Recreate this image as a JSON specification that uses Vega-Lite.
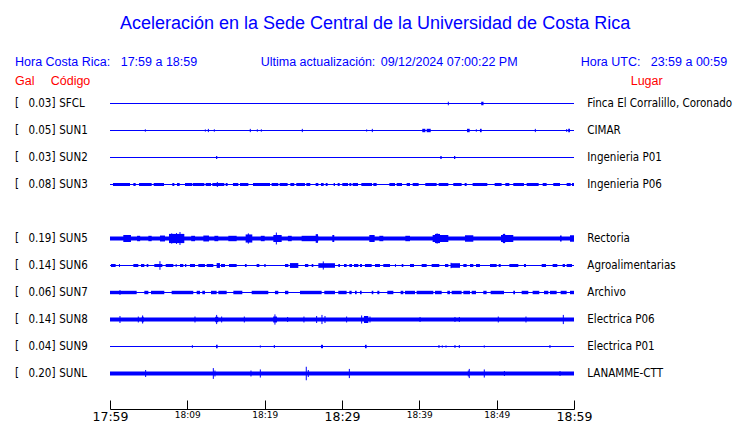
{
"$schema": "https://vega.github.io/schema/vega-lite/v6.json",
"width": 464, "height": 319,
"autosize": {"type": "none"},
"padding": {"left": 110, "top": 90, "right": 166, "bottom": 14},
"background": "white",
"config": {"view": {"stroke": null}},
"datasets": {
"st": [
{"code":"SFCL","slot":0,"gal":"0.03","place":"Finca El Corralillo, Coronado"},
{"code":"SUN1","slot":1,"gal":"0.05","place":"CIMAR"},
{"code":"SUN2","slot":2,"gal":"0.03","place":"Ingenieria P01"},
{"code":"SUN3","slot":3,"gal":"0.08","place":"Ingenieria P06"},
{"code":"SUN5","slot":5,"gal":"0.19","place":"Rectoria"},
{"code":"SUN6","slot":6,"gal":"0.14","place":"Agroalimentarias"},
{"code":"SUN7","slot":7,"gal":"0.06","place":"Archivo"},
{"code":"SUN8","slot":8,"gal":"0.14","place":"Electrica P06"},
{"code":"SUN9","slot":9,"gal":"0.04","place":"Electrica P01"},
{"code":"SUNL","slot":10,"gal":"0.20","place":"LANAMME-CTT"}
],
"bd": [
{"s":"SFCL","t0":48.0,"t1":48.3,"a":0.065},
{"s":"SUN1","t0":40.38,"t1":40.78,"a":0.063},{"s":"SUN1","t0":40.95,"t1":41.47,"a":0.063},{"s":"SUN1","t0":46.16,"t1":46.51,"a":0.063},{"s":"SUN1","t0":47.84,"t1":48.06,"a":0.063},{"s":"SUN1","t0":59.0,"t1":59.12,"a":0.06},{"s":"SUN1","t0":59.25,"t1":59.48,"a":0.063},
{"s":"SUN2","t0":13.71,"t1":13.87,"a":0.06},{"s":"SUN2","t0":42.71,"t1":42.89,"a":0.055},{"s":"SUN2","t0":44.48,"t1":44.65,"a":0.055},
{"s":"SUN3","t0":0.39,"t1":2.59,"a":0.056},{"s":"SUN3","t0":3.02,"t1":3.32,"a":0.056},{"s":"SUN3","t0":3.75,"t1":5.39,"a":0.056},{"s":"SUN3","t0":5.65,"t1":6.98,"a":0.056},{"s":"SUN3","t0":8.06,"t1":8.32,"a":0.056},{"s":"SUN3","t0":8.66,"t1":9.01,"a":0.056},{"s":"SUN3","t0":9.70,"t1":10.65,"a":0.056},{"s":"SUN3","t0":10.73,"t1":12.20,"a":0.056},{"s":"SUN3","t0":12.37,"t1":13.06,"a":0.056},{"s":"SUN3","t0":13.23,"t1":14.78,"a":0.056},{"s":"SUN3","t0":14.96,"t1":15.21,"a":0.056},{"s":"SUN3","t0":15.90,"t1":16.59,"a":0.056},{"s":"SUN3","t0":16.81,"t1":17.89,"a":0.056},{"s":"SUN3","t0":18.49,"t1":20.69,"a":0.056},{"s":"SUN3","t0":20.90,"t1":21.76,"a":0.056},{"s":"SUN3","t0":21.94,"t1":22.97,"a":0.056},{"s":"SUN3","t0":23.32,"t1":23.83,"a":0.056},{"s":"SUN3","t0":24.09,"t1":25.21,"a":0.056},{"s":"SUN3","t0":25.39,"t1":25.90,"a":0.056},{"s":"SUN3","t0":26.59,"t1":26.94,"a":0.056},{"s":"SUN3","t0":27.28,"t1":27.63,"a":0.056},{"s":"SUN3","t0":27.89,"t1":28.14,"a":0.056},{"s":"SUN3","t0":28.92,"t1":29.09,"a":0.056},{"s":"SUN3","t0":29.44,"t1":29.70,"a":0.056},{"s":"SUN3","t0":30.04,"t1":30.78,"a":0.056},{"s":"SUN3","t0":30.95,"t1":31.21,"a":0.056},{"s":"SUN3","t0":31.38,"t1":32.07,"a":0.056},{"s":"SUN3","t0":32.50,"t1":33.88,"a":0.056},{"s":"SUN3","t0":34.05,"t1":34.48,"a":0.056},{"s":"SUN3","t0":36.12,"t1":36.85,"a":0.056},{"s":"SUN3","t0":37.07,"t1":37.76,"a":0.056},{"s":"SUN3","t0":38.36,"t1":38.79,"a":0.056},{"s":"SUN3","t0":39.14,"t1":39.91,"a":0.056},{"s":"SUN3","t0":40.77,"t1":42.24,"a":0.056},{"s":"SUN3","t0":42.50,"t1":43.75,"a":0.056},{"s":"SUN3","t0":44.39,"t1":45.47,"a":0.056},{"s":"SUN3","t0":45.86,"t1":46.12,"a":0.056},{"s":"SUN3","t0":46.89,"t1":48.79,"a":0.056},{"s":"SUN3","t0":49.74,"t1":50.64,"a":0.056},{"s":"SUN3","t0":51.12,"t1":51.64,"a":0.056},{"s":"SUN3","t0":52.15,"t1":53.53,"a":0.056},{"s":"SUN3","t0":53.88,"t1":55.43,"a":0.056},{"s":"SUN3","t0":55.95,"t1":56.46,"a":0.056},{"s":"SUN3","t0":57.32,"t1":58.19,"a":0.056},{"s":"SUN3","t0":59.05,"t1":59.57,"a":0.056},{"s":"SUN3","t0":59.74,"t1":60.0,"a":0.056},
{"s":"SUN5","t0":0,"t1":60,"a":0.074},
{"s":"SUN5","t0":1.72,"t1":2.71,"a":0.13},{"s":"SUN5","t0":3.5,"t1":3.9,"a":0.1},{"s":"SUN5","t0":4.96,"t1":5.39,"a":0.1},{"s":"SUN5","t0":6.46,"t1":7.11,"a":0.11},{"s":"SUN5","t0":7.63,"t1":9.61,"a":0.17},{"s":"SUN5","t0":10.5,"t1":11.0,"a":0.1},{"s":"SUN5","t0":12.07,"t1":12.80,"a":0.11},{"s":"SUN5","t0":13.5,"t1":14.0,"a":0.1},{"s":"SUN5","t0":15.30,"t1":16.38,"a":0.1},{"s":"SUN5","t0":17.54,"t1":18.40,"a":0.15},{"s":"SUN5","t0":19.5,"t1":20.0,"a":0.1},{"s":"SUN5","t0":21.12,"t1":22.20,"a":0.13},{"s":"SUN5","t0":23.0,"t1":23.5,"a":0.1},{"s":"SUN5","t0":24.78,"t1":26.94,"a":0.1},{"s":"SUN5","t0":26.6,"t1":26.9,"a":0.16},{"s":"SUN5","t0":28.75,"t1":29.0,"a":0.13},{"s":"SUN5","t0":33.53,"t1":34.22,"a":0.13},{"s":"SUN5","t0":34.83,"t1":35.34,"a":0.1},{"s":"SUN5","t0":38.19,"t1":38.79,"a":0.1},{"s":"SUN5","t0":41.72,"t1":43.75,"a":0.13},{"s":"SUN5","t0":42.02,"t1":42.67,"a":0.17},{"s":"SUN5","t0":45.90,"t1":46.98,"a":0.12},{"s":"SUN5","t0":50.56,"t1":52.15,"a":0.13},{"s":"SUN5","t0":50.8,"t1":51.1,"a":0.17},{"s":"SUN5","t0":58.19,"t1":58.40,"a":0.11},{"s":"SUN5","t0":59.48,"t1":60.0,"a":0.12},
{"s":"SUN6","t0":0.13,"t1":0.73,"a":0.056},{"s":"SUN6","t0":1.16,"t1":1.29,"a":0.056},{"s":"SUN6","t0":3.02,"t1":3.66,"a":0.056},{"s":"SUN6","t0":4.01,"t1":4.44,"a":0.056},{"s":"SUN6","t0":4.74,"t1":4.96,"a":0.056},{"s":"SUN6","t0":5.73,"t1":6.77,"a":0.056},{"s":"SUN6","t0":7.20,"t1":8.19,"a":0.056},{"s":"SUN6","t0":8.49,"t1":8.62,"a":0.056},{"s":"SUN6","t0":9.05,"t1":9.48,"a":0.056},{"s":"SUN6","t0":9.70,"t1":9.87,"a":0.056},{"s":"SUN6","t0":10.34,"t1":10.99,"a":0.056},{"s":"SUN6","t0":11.42,"t1":12.28,"a":0.056},{"s":"SUN6","t0":12.50,"t1":13.36,"a":0.056},{"s":"SUN6","t0":13.79,"t1":14.22,"a":0.09},{"s":"SUN6","t0":14.35,"t1":14.87,"a":0.056},{"s":"SUN6","t0":15.39,"t1":16.38,"a":0.056},{"s":"SUN6","t0":17.45,"t1":17.67,"a":0.056},{"s":"SUN6","t0":18.96,"t1":19.31,"a":0.056},{"s":"SUN6","t0":19.95,"t1":20.13,"a":0.056},{"s":"SUN6","t0":22.63,"t1":23.06,"a":0.056},{"s":"SUN6","t0":23.27,"t1":24.35,"a":0.09},{"s":"SUN6","t0":25.21,"t1":25.64,"a":0.056},{"s":"SUN6","t0":26.08,"t1":26.29,"a":0.056},{"s":"SUN6","t0":26.94,"t1":29.09,"a":0.085},{"s":"SUN6","t0":29.52,"t1":29.74,"a":0.056},{"s":"SUN6","t0":30.26,"t1":30.60,"a":0.056},{"s":"SUN6","t0":30.95,"t1":31.29,"a":0.056},{"s":"SUN6","t0":31.55,"t1":32.11,"a":0.056},{"s":"SUN6","t0":32.33,"t1":32.59,"a":0.056},{"s":"SUN6","t0":32.97,"t1":33.84,"a":0.056},{"s":"SUN6","t0":34.27,"t1":34.91,"a":0.056},{"s":"SUN6","t0":35.34,"t1":36.21,"a":0.056},{"s":"SUN6","t0":36.85,"t1":36.97,"a":0.056},{"s":"SUN6","t0":37.72,"t1":37.93,"a":0.056},{"s":"SUN6","t0":38.79,"t1":39.31,"a":0.056},{"s":"SUN6","t0":40.30,"t1":40.95,"a":0.056},{"s":"SUN6","t0":41.59,"t1":42.58,"a":0.056},{"s":"SUN6","t0":43.32,"t1":43.75,"a":0.056},{"s":"SUN6","t0":44.09,"t1":45.26,"a":0.085},{"s":"SUN6","t0":45.69,"t1":46.12,"a":0.056},{"s":"SUN6","t0":46.55,"t1":46.98,"a":0.056},{"s":"SUN6","t0":47.33,"t1":47.84,"a":0.056},{"s":"SUN6","t0":49.14,"t1":50.0,"a":0.056},{"s":"SUN6","t0":50.26,"t1":50.52,"a":0.056},{"s":"SUN6","t0":51.64,"t1":52.80,"a":0.056},{"s":"SUN6","t0":53.53,"t1":53.79,"a":0.056},{"s":"SUN6","t0":55.82,"t1":56.38,"a":0.056},{"s":"SUN6","t0":57.24,"t1":57.84,"a":0.056},{"s":"SUN6","t0":58.53,"t1":58.83,"a":0.056},{"s":"SUN6","t0":59.05,"t1":59.74,"a":0.056},
{"s":"SUN7","t0":0,"t1":3.45,"a":0.063},{"s":"SUN7","t0":4.44,"t1":4.96,"a":0.063},{"s":"SUN7","t0":5.30,"t1":7.02,"a":0.063},{"s":"SUN7","t0":7.97,"t1":10.77,"a":0.063},{"s":"SUN7","t0":11.21,"t1":11.64,"a":0.063},{"s":"SUN7","t0":11.94,"t1":12.28,"a":0.063},{"s":"SUN7","t0":13.06,"t1":13.79,"a":0.063},{"s":"SUN7","t0":14.01,"t1":15.09,"a":0.063},{"s":"SUN7","t0":15.95,"t1":17.11,"a":0.063},{"s":"SUN7","t0":18.32,"t1":20.47,"a":0.063},{"s":"SUN7","t0":21.33,"t1":21.76,"a":0.063},{"s":"SUN7","t0":22.63,"t1":23.06,"a":0.063},{"s":"SUN7","t0":24.57,"t1":27.37,"a":0.063},{"s":"SUN7","t0":27.71,"t1":29.09,"a":0.063},{"s":"SUN7","t0":29.52,"t1":30.60,"a":0.063},{"s":"SUN7","t0":30.95,"t1":31.25,"a":0.063},{"s":"SUN7","t0":31.68,"t1":31.90,"a":0.063},{"s":"SUN7","t0":32.33,"t1":32.54,"a":0.063},{"s":"SUN7","t0":33.84,"t1":34.05,"a":0.063},{"s":"SUN7","t0":34.57,"t1":34.83,"a":0.063},{"s":"SUN7","t0":35.86,"t1":36.64,"a":0.063},{"s":"SUN7","t0":37.58,"t1":37.93,"a":0.063},{"s":"SUN7","t0":38.14,"t1":39.44,"a":0.063},{"s":"SUN7","t0":39.65,"t1":41.81,"a":0.063},{"s":"SUN7","t0":42.02,"t1":42.89,"a":0.063},{"s":"SUN7","t0":43.62,"t1":43.96,"a":0.063},{"s":"SUN7","t0":44.18,"t1":45.47,"a":0.063},{"s":"SUN7","t0":45.69,"t1":46.55,"a":0.063},{"s":"SUN7","t0":46.77,"t1":47.33,"a":0.063},{"s":"SUN7","t0":48.27,"t1":48.70,"a":0.063},{"s":"SUN7","t0":49.22,"t1":50.95,"a":0.063},{"s":"SUN7","t0":52.15,"t1":52.37,"a":0.063},{"s":"SUN7","t0":53.23,"t1":54.09,"a":0.063},{"s":"SUN7","t0":54.65,"t1":55.51,"a":0.063},{"s":"SUN7","t0":56.12,"t1":56.68,"a":0.063},{"s":"SUN7","t0":56.89,"t1":57.76,"a":0.063},{"s":"SUN7","t0":58.27,"t1":59.05,"a":0.063},{"s":"SUN7","t0":59.48,"t1":60.0,"a":0.063},
{"s":"SUN8","t0":0,"t1":60,"a":0.074},{"s":"SUN8","t0":4.1,"t1":4.35,"a":0.1},{"s":"SUN8","t0":13.6,"t1":14.0,"a":0.1},{"s":"SUN8","t0":21.1,"t1":21.6,"a":0.11},{"s":"SUN8","t0":32.84,"t1":33.40,"a":0.13},
{"s":"SUN9","t0":13.71,"t1":13.92,"a":0.063},{"s":"SUN9","t0":27.28,"t1":27.54,"a":0.063},{"s":"SUN9","t0":32.97,"t1":33.19,"a":0.063},
{"s":"SUNL","t0":0,"t1":60,"a":0.074}
],
"sp": [
{"s":"SFCL","t":43.75,"a":0.065},
{"s":"SUN1","t":4.57,"a":0.045},{"s":"SUN1","t":12.33,"a":0.04},{"s":"SUN1","t":12.72,"a":0.06},{"s":"SUN1","t":13.49,"a":0.045},{"s":"SUN1","t":18.14,"a":0.06},{"s":"SUN1","t":19.05,"a":0.045},{"s":"SUN1","t":19.57,"a":0.045},{"s":"SUN1","t":24.87,"a":0.06},{"s":"SUN1","t":33.19,"a":0.04},{"s":"SUN1","t":33.92,"a":0.06},{"s":"SUN1","t":47.37,"a":0.045},{"s":"SUN1","t":55.0,"a":0.06},
{"s":"SUN3","t":13.88,"a":0.093},
{"s":"SUN5","t":7.98,"a":0.19},{"s":"SUN5","t":8.6,"a":0.2},{"s":"SUN5","t":9.05,"a":0.24},{"s":"SUN5","t":17.89,"a":0.19},{"s":"SUN5","t":21.51,"a":0.22},{"s":"SUN5","t":42.3,"a":0.19},{"s":"SUN5","t":51.0,"a":0.17},
{"s":"SUN6","t":6.46,"a":0.16},{"s":"SUN6","t":27.58,"a":0.15},{"s":"SUN6","t":44.1,"a":0.1},
{"s":"SUN7","t":1.29,"a":0.09},
{"s":"SUN8","t":1.29,"a":0.13},{"s":"SUN8","t":3.66,"a":0.11},{"s":"SUN8","t":4.22,"a":0.15},{"s":"SUN8","t":10.99,"a":0.11},{"s":"SUN8","t":13.79,"a":0.17},{"s":"SUN8","t":14.44,"a":0.11},{"s":"SUN8","t":17.37,"a":0.11},{"s":"SUN8","t":21.33,"a":0.19},{"s":"SUN8","t":22.97,"a":0.093},{"s":"SUN8","t":25.08,"a":0.11},{"s":"SUN8","t":26.72,"a":0.13},{"s":"SUN8","t":27.41,"a":0.17},{"s":"SUN8","t":27.80,"a":0.13},{"s":"SUN8","t":30.60,"a":0.11},{"s":"SUN8","t":32.54,"a":0.15},{"s":"SUN8","t":33.62,"a":0.11},{"s":"SUN8","t":40.09,"a":0.093},{"s":"SUN8","t":44.61,"a":0.093},{"s":"SUN8","t":45.17,"a":0.093},{"s":"SUN8","t":50.21,"a":0.11},{"s":"SUN8","t":53.79,"a":0.11},{"s":"SUN8","t":58.62,"a":0.17},
{"s":"SUN9","t":10.65,"a":0.05},{"s":"SUN9","t":19.44,"a":0.04},{"s":"SUN9","t":21.25,"a":0.055},{"s":"SUN9","t":42.54,"a":0.055},{"s":"SUN9","t":42.97,"a":0.04},{"s":"SUN9","t":43.45,"a":0.04},{"s":"SUN9","t":44.61,"a":0.055},{"s":"SUN9","t":45.17,"a":0.055},{"s":"SUN9","t":48.40,"a":0.04},{"s":"SUN9","t":56.89,"a":0.055},
{"s":"SUNL","t":4.61,"a":0.13},{"s":"SUNL","t":13.36,"a":0.2},{"s":"SUNL","t":13.57,"a":0.11},{"s":"SUNL","t":18.23,"a":0.11},{"s":"SUNL","t":19.44,"a":0.15},{"s":"SUNL","t":25.38,"a":0.25},{"s":"SUNL","t":25.64,"a":0.13},{"s":"SUNL","t":30.95,"a":0.17},{"s":"SUNL","t":46.33,"a":0.11},{"s":"SUNL","t":46.46,"a":0.17},{"s":"SUNL","t":48.40,"a":0.15},{"s":"SUNL","t":51.0,"a":0.093},{"s":"SUNL","t":58.19,"a":0.093}
]
},
"layer": [
{
"data": {"name": "bd"},
"transform": [
{"lookup": "s", "from": {"data": {"name": "st"}, "key": "code", "fields": ["slot"]}},
{"calculate": "datum.slot - datum.a", "as": "lo"},
{"calculate": "datum.slot + datum.a", "as": "hi"}
],
"mark": {"type": "rect", "color": "#0000ff"},
"encoding": {
"x": {"field": "t0", "type": "quantitative", "scale": {"domain": [0, 60], "nice": false, "zero": false},
"axis": {"values": [0,5,10,15,20,25,30,35,40,45,50,55,60], "title": null, "grid": false,
"labelExpr": "datum.value % 10 == 0 ? ['17:59','18:09','18:19','18:29','18:39','18:49','18:59'][datum.value/10] : ''",
"domainColor": "black", "tickColor": "black", "tickSize": -9, "labelPadding": 10.5, "labelBaseline": "top",
"labelColor": "black", "labelFont": "DejaVu Sans", "labelFontSize": {"condition": {"test": "datum.value % 30 == 0", "value": 12.5}, "value": 9},
"labelFlush": false, "labelOverlap": false}},
"x2": {"field": "t1"},
"y": {"field": "lo", "type": "quantitative", "scale": {"domain": [-0.5, 11.3148], "reverse": true, "nice": false, "zero": false}, "axis": null},
"y2": {"field": "hi"}
}
},
{
"data": {"name": "st"},
"mark": {"type": "rule", "color": "#0000ff", "strokeWidth": 1},
"encoding": {
"x": {"datum": 0, "type": "quantitative"},
"x2": {"datum": 60},
"y": {"field": "slot", "type": "quantitative", "axis": null}
}
},
{
"data": {"name": "sp"},
"transform": [
{"lookup": "s", "from": {"data": {"name": "st"}, "key": "code", "fields": ["slot"]}},
{"calculate": "datum.slot - datum.a", "as": "lo"},
{"calculate": "datum.slot + datum.a", "as": "hi"}
],
"mark": {"type": "rule", "color": "#0000ff", "strokeWidth": 1},
"encoding": {
"x": {"field": "t", "type": "quantitative"},
"y": {"field": "lo", "type": "quantitative", "axis": null},
"y2": {"field": "hi"}
}
},
{
"data": {"name": "st"},
"mark": {"type": "text", "text": "[", "align": "left", "baseline": "middle", "font": "DejaVu Sans Condensed, DejaVu Sans", "fontSize": 11.5, "color": "black"},
"encoding": {"x": {"datum": -12.284}, "y": {"field": "slot", "type": "quantitative", "axis": null}}
},
{
"data": {"name": "st"},
"transform": [{"calculate": "datum.gal + ']'", "as": "g"}],
"mark": {"type": "text", "align": "right", "baseline": "middle", "font": "DejaVu Sans Condensed, DejaVu Sans", "fontSize": 11.5, "color": "black"},
"encoding": {"x": {"datum": -7.047}, "y": {"field": "slot", "type": "quantitative", "axis": null}, "text": {"field": "g"}}
},
{
"data": {"name": "st"},
"mark": {"type": "text", "align": "left", "baseline": "middle", "font": "DejaVu Sans Condensed, DejaVu Sans", "fontSize": 11.5, "color": "black"},
"encoding": {"x": {"datum": -6.556}, "y": {"field": "slot", "type": "quantitative", "axis": null}, "text": {"field": "code"}}
},
{
"data": {"name": "st"},
"mark": {"type": "text", "align": "left", "baseline": "middle", "font": "DejaVu Sans Condensed, DejaVu Sans", "fontSize": 11.5, "color": "black"},
"encoding": {"x": {"datum": 61.72}, "y": {"field": "slot", "type": "quantitative", "axis": null}, "text": {"field": "place"}}
},
{
"data": {"values": [{}]},
"mark": {"type": "text", "text": "Aceleración en la Sede Central de la Universidad de Costa Rica", "align": "center", "baseline": "alphabetic", "font": "Liberation Sans", "fontSize": 18, "color": "#0000ff"},
"encoding": {"x": {"datum": 34.27}, "y": {"datum": -2.759, "axis": null}}
},
{
"data": {"values": [{}]},
"mark": {"type": "text", "text": "Hora Costa Rica:", "align": "left", "baseline": "alphabetic", "font": "Liberation Sans", "fontSize": 12.5, "color": "#0000ff"},
"encoding": {"x": {"datum": -12.284}, "y": {"datum": -1.4, "axis": null}}
},
{
"data": {"values": [{}]},
"mark": {"type": "text", "text": "17:59 a 18:59", "align": "left", "baseline": "alphabetic", "font": "Liberation Sans", "fontSize": 12.5, "color": "#0000ff"},
"encoding": {"x": {"datum": 1.384}, "y": {"datum": -1.4, "axis": null}}
},
{
"data": {"values": [{}]},
"mark": {"type": "text", "text": "Ultima actualización:", "align": "left", "baseline": "alphabetic", "font": "Liberation Sans", "fontSize": 12.5, "color": "#0000ff"},
"encoding": {"x": {"datum": 19.487}, "y": {"datum": -1.4, "axis": null}}
},
{
"data": {"values": [{}]},
"mark": {"type": "text", "text": "09/12/2024 07:00:22 PM", "align": "left", "baseline": "alphabetic", "font": "Liberation Sans", "fontSize": 12.5, "color": "#0000ff"},
"encoding": {"x": {"datum": 35.004}, "y": {"datum": -1.4, "axis": null}}
},
{
"data": {"values": [{}]},
"mark": {"type": "text", "text": "Hora UTC:", "align": "left", "baseline": "alphabetic", "font": "Liberation Sans", "fontSize": 12.5, "color": "#0000ff"},
"encoding": {"x": {"datum": 60.866}, "y": {"datum": -1.4, "axis": null}}
},
{
"data": {"values": [{}]},
"mark": {"type": "text", "text": "23:59 a 00:59", "align": "left", "baseline": "alphabetic", "font": "Liberation Sans", "fontSize": 12.5, "color": "#0000ff"},
"encoding": {"x": {"datum": 69.918}, "y": {"datum": -1.4, "axis": null}}
},
{
"data": {"values": [{}]},
"mark": {"type": "text", "text": "Gal", "align": "left", "baseline": "alphabetic", "font": "Liberation Sans", "fontSize": 12.5, "color": "#ff0000"},
"encoding": {"x": {"datum": -12.284}, "y": {"datum": -0.685, "axis": null}}
},
{
"data": {"values": [{}]},
"mark": {"type": "text", "text": "Código", "align": "left", "baseline": "alphabetic", "font": "Liberation Sans", "fontSize": 12.5, "color": "#ff0000"},
"encoding": {"x": {"datum": -7.668}, "y": {"datum": -0.685, "axis": null}}
},
{
"data": {"values": [{}]},
"mark": {"type": "text", "text": "Lugar", "align": "left", "baseline": "alphabetic", "font": "Liberation Sans", "fontSize": 12.5, "color": "#ff0000"},
"encoding": {"x": {"datum": 67.33}, "y": {"datum": -0.685, "axis": null}}
}
]
}
